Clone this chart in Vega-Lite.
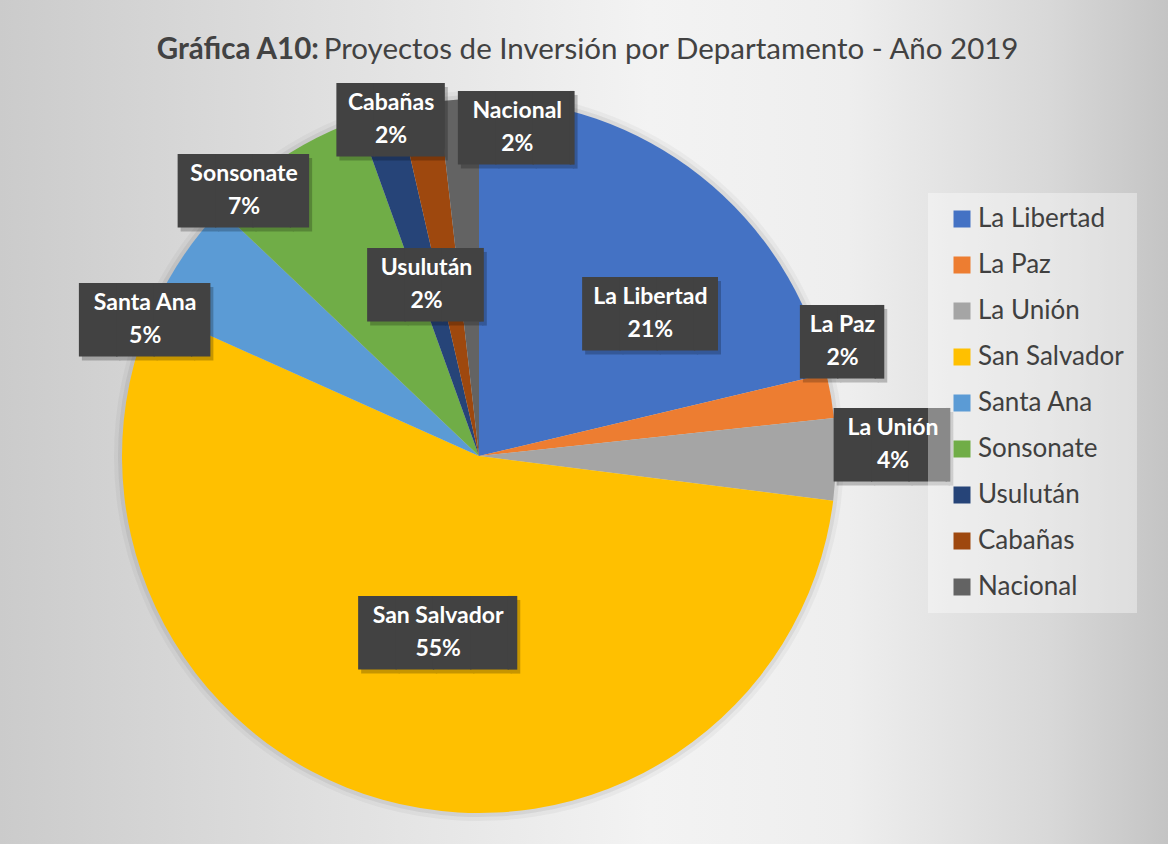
{
  "$schema": "https://vega.github.io/schema/vega-lite/v6.json",
  "width": 1378,
  "height": 912,
  "autosize": {"type": "none"},
  "padding": {"left": -210, "top": 0, "right": 0, "bottom": -68},
  "background": "#d8d8d8",
  "view": {
    "stroke": null,
    "fill": {
      "gradient": "linear", "x1": 0, "y1": 0, "x2": 1, "y2": 0,
      "stops": [
        {"offset": 0, "color": "#c0c0c0"},
        {"offset": 0.152, "color": "#cbcbcb"},
        {"offset": 0.37, "color": "#dedede"},
        {"offset": 0.624, "color": "#f3f3f3"},
        {"offset": 0.769, "color": "#eeeeee"},
        {"offset": 0.914, "color": "#d8d8d8"},
        {"offset": 1, "color": "#c4c4c4"}
      ]
    }
  },
  "title": {
    "text": "Gráfica A10:\u2003\u2003\u2003\u2003\u2003\u2003\u2003\u2003\u2003\u2003\u2003\u2003\u2003\u2003\u2003\u2003\u2003\u2003\u2003\u2003\u2003\u2003\u2003\u2003\u2003\u2003\u2003\u2003\u2003\u2003\u2003\u2002\u2009\u200b",
    "subtitle": "\u200b\u2003\u2003\u2003\u2003\u2003\u2003\u2003\u2009\u2009Proyectos de Inversión por Departamento - Año 2019",
    "frame": "group",
    "anchor": "middle",
    "orient": "top",
    "offset": -65,
    "dx": 111,
    "font": "Lato",
    "fontSize": 29.5,
    "fontWeight": "bold",
    "color": "#424242",
    "subtitleFont": "Lato",
    "subtitleFontSize": 29.5,
    "subtitleFontWeight": "normal",
    "subtitleColor": "#424242",
    "subtitlePadding": -29.5
  },
  "params": [
    {"name": "labR", "value": {"La Libertad": 223, "La Paz": 381, "La Unión": 414, "San Salvador": 181, "Santa Ana": 361, "Sonsonate": 355, "Usulután": 179, "Cabañas": 349, "Nacional": 332}},
    {"name": "labDx", "value": {"La Libertad": 33, "La Paz": -12, "La Unión": 0, "San Salvador": 8, "Santa Ana": -34, "Sonsonate": -41, "Usulután": -2, "Cabañas": -29, "Nacional": 57}},
    {"name": "labDy", "value": {"La Libertad": 32, "La Paz": -51, "La Unión": -16, "San Salvador": 2, "Santa Ana": 64, "Sonsonate": 31, "Usulután": 0, "Cabañas": 7, "Nacional": 2}},
    {"name": "boxTxt", "value": {"La Libertad": "███▋", "La Paz": "██▎", "La Unión": "███▏", "San Salvador": "████▎", "Santa Ana": "███▌", "Sonsonate": "███▌", "Usulután": "███▏", "Cabañas": "██▉", "Nacional": "███▏"}},
    {"name": "boxShift", "value": {"La Libertad": 7, "La Paz": 14, "La Unión": 16, "San Salvador": 14, "Santa Ana": 9, "Sonsonate": 9, "Usulután": 16, "Cabañas": 2, "Nacional": 16}}
  ],
  "data": {
    "values": [
      {"dept": "La Libertad", "value": 0.213},
      {"dept": "La Paz", "value": 0.020},
      {"dept": "La Unión", "value": 0.037},
      {"dept": "San Salvador", "value": 0.547},
      {"dept": "Santa Ana", "value": 0.054},
      {"dept": "Sonsonate", "value": 0.074},
      {"dept": "Usulután", "value": 0.019},
      {"dept": "Cabañas", "value": 0.018},
      {"dept": "Nacional", "value": 0.018}
    ]
  },
  "transform": [{"window": [{"op": "row_number", "as": "idx"}]}],
  "encoding": {
    "theta": {"field": "value", "type": "quantitative", "stack": true},
    "order": {"field": "idx", "type": "quantitative"}
  },
  "layer": [
    {
      "mark": {"type": "arc", "radius": 365, "fill": "#000000", "opacity": 0.035},
      "encoding": {"detail": {"field": "dept"}}
    },
    {
      "mark": {"type": "arc", "radius": 361, "fill": "#000000", "opacity": 0.06},
      "encoding": {"detail": {"field": "dept"}}
    },
    {
      "mark": {"type": "arc", "radius": 357},
      "encoding": {
        "color": {
          "field": "dept",
          "type": "nominal",
          "scale": {
            "domain": ["La Libertad", "La Paz", "La Unión", "San Salvador", "Santa Ana", "Sonsonate", "Usulután", "Cabañas", "Nacional"],
            "range": ["#4472C4", "#ED7D31", "#A5A5A5", "#FFC000", "#5B9BD5", "#70AD47", "#264478", "#9E480E", "#636363"]
          },
          "legend": {
            "orient": "none",
            "legendX": 1138,
            "legendY": 193,
            "title": null,
            "fillColor": "rgba(255,255,255,0.38)",
            "padding": 13,
            "symbolOffset": 8,
            "symbolType": "square",
            "symbolSize": 289,
            "symbolStrokeWidth": 0,
            "labelFont": "Lato",
            "labelFontSize": 26,
            "labelColor": "#404040",
            "labelOffset": 3,
            "rowPadding": 20,
            "labelLimit": 300
          }
        }
      }
    },
    {
      "mark": {
        "type": "text", "font": "DejaVu Sans Mono", "fontSize": 62, "align": "center", "baseline": "middle",
        "fill": "#000000", "opacity": 0.22,
        "text": {"expr": "boxTxt[datum.dept]"},
        "radius": {"expr": "labR[datum.dept]"},
        "dx": {"expr": "labDx[datum.dept] + boxShift[datum.dept] + 3"},
        "dy": {"expr": "labDy[datum.dept] + 7"}
      },
      "encoding": {"detail": {"field": "dept"}}
    },
    {
      "mark": {
        "type": "text", "font": "DejaVu Sans Mono", "fontSize": 62, "align": "center", "baseline": "middle",
        "fill": "#424242",
        "text": {"expr": "boxTxt[datum.dept]"},
        "radius": {"expr": "labR[datum.dept]"},
        "dx": {"expr": "labDx[datum.dept] + boxShift[datum.dept]"},
        "dy": {"expr": "labDy[datum.dept] + 3"}
      },
      "encoding": {"detail": {"field": "dept"}}
    },
    {
      "mark": {
        "type": "text", "font": "Lato", "fontWeight": "bold", "fontSize": 23, "align": "center", "baseline": "middle",
        "fill": "#ffffff",
        "radius": {"expr": "labR[datum.dept]"},
        "dx": {"expr": "labDx[datum.dept]"},
        "dy": {"expr": "labDy[datum.dept] - 16"}
      },
      "encoding": {"detail": {"field": "dept"}, "text": {"field": "dept"}}
    },
    {
      "mark": {
        "type": "text", "font": "Lato", "fontWeight": "bold", "fontSize": 23, "align": "center", "baseline": "middle",
        "fill": "#ffffff",
        "radius": {"expr": "labR[datum.dept]"},
        "dx": {"expr": "labDx[datum.dept]"},
        "dy": {"expr": "labDy[datum.dept] + 17"}
      },
      "encoding": {"detail": {"field": "dept"}, "text": {"field": "value", "type": "quantitative", "format": ".0%"}}
    }
  ]
}
